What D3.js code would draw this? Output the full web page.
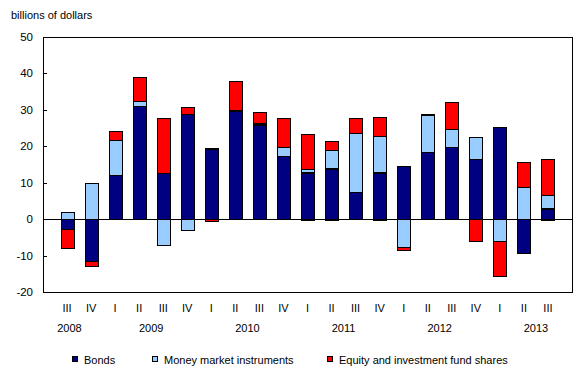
<!DOCTYPE html>
<html>
<head>
<meta charset="utf-8">
<script src="https://cdn.jsdelivr.net/npm/d3@7"></script>
<style>
  body { margin: 0; background: #fff; }
  text { font-family: "Liberation Sans", Arial, sans-serif; fill: #000; }
</style>
</head>
<body>
<script>

const w = 588;
const h = 380;

// quarters, 2008 III to 2013 III
const quarters = ["III", "IV", "I", "II", "III", "IV", "I", "II", "III", "IV", "I", "II", "III", "IV",
    "I", "II", "III", "IV", "I", "II", "III"];
const bonds = [-2.8, -11.6, 12.0, 31.0, 12.6, 28.8, 19.2, 29.7, 25.8, 17.3, 12.8, 13.9, 7.4, 12.8,
    14.5, 18.4, 19.7, 16.4, 25.2, -9.4, 2.9];
const money = [1.9, 9.8, 9.6, 1.4, -7.2, -3.1, 0.2, 0.2, 0.4, 2.4, 0.9, 5.0, 16.2, 9.9,
    -7.7, 10.1, 5.0, 6.1, -6.1, 8.7, 3.6];
const equity = [-5.2, -1.3, 2.5, 6.5, 15.1, 1.9, -0.6, 7.9, 3.1, 8.0, 9.6, 2.5, 4.1, 5.3,
    -0.7, 0.4, 7.5, -6.1, -9.6, 6.9, 9.9];

const years = ["2008", "2009", "2010", "2011", "2012", "2013"];
const yearPos = [0.1, 3.5, 7.5, 11.5, 15.5, 19.5]; // in quarter index units

const yTicks = [-20, -10, 0, 10, 20, 30, 40, 50];

const seriesNames = ["Bonds", "Money market instruments", "Equity and investment fund shares"];
const colors = ["#000080", "#99ccff", "#ff0000"];

var rows = quarters.map(function (q, i) {
    return { idx: i, q: q, bonds: bonds[i], money: money[i], equity: equity[i] };
});

let svg = d3.select("body")
    .append("svg")
    .attr("width", w)
    .attr("height", h)

const plotL = 43, plotR = 572, plotT = 37, plotB = 292;

var x = d3.scaleBand()
    .domain(d3.range(quarters.length))
    .range([plotL, plotR])
    .paddingInner(0.46)
    .paddingOuter(0.73);

var y = d3.scaleLinear()
    .domain([-20, 50])
    .range([plotB, plotT]);

var stack = d3.stack()
    .keys(["bonds", "money", "equity"])
    .offset(d3.stackOffsetDiverging);

var layers = stack(rows);

const px = v => Math.round(v) + 0.5;

// bars
svg.append("g")
    .selectAll("g")
    .data(layers)
    .join("g")
    .attr("fill", (d, i) => colors[i])
    .selectAll("rect")
    .data(d => d.filter(s => s[1] !== s[0]))
    .join("rect")
    .attr("x", d => px(x(d.data.idx)))
    .attr("y", d => px(y(Math.max(d[0], d[1]))))
    .attr("width", Math.round(x.bandwidth()))
    .attr("height", d => Math.max(1, Math.round(Math.abs(y(d[0]) - y(d[1])))))
    .attr("stroke", "#000")
    .attr("stroke-width", 1);

// zero line
svg.append("line")
    .attr("x1", plotL).attr("x2", plotR)
    .attr("y1", px(y(0))).attr("y2", px(y(0)))
    .attr("stroke", "#000");

// frame
svg.append("rect")
    .attr("x", px(plotL)).attr("y", px(plotT))
    .attr("width", plotR - plotL).attr("height", plotB - plotT)
    .attr("fill", "none")
    .attr("stroke", "#000");

// y ticks (inward) and labels
var yt = svg.append("g");
yt.selectAll("line")
    .data(yTicks)
    .join("line")
    .attr("x1", plotL).attr("x2", plotL + 4)
    .attr("y1", d => px(y(d))).attr("y2", d => px(y(d)))
    .attr("stroke", "#000");
yt.selectAll("text")
    .data(yTicks)
    .join("text")
    .attr("x", 33)
    .attr("y", d => y(d) + 4)
    .attr("text-anchor", "end")
    .style("font-size", "11.5px")
    .text(d => d);

// quarter labels
svg.append("g")
    .selectAll("text")
    .data(rows)
    .join("text")
    .attr("x", d => x(d.idx) + x.bandwidth() / 2)
    .attr("y", 312)
    .attr("text-anchor", "middle")
    .style("font-size", "11px")
    .text(d => d.q);

// year labels
svg.append("g")
    .selectAll("text")
    .data(years)
    .join("text")
    .attr("x", (d, i) => x(0) + x.bandwidth() / 2 + yearPos[i] * x.step())
    .attr("y", 332)
    .attr("text-anchor", "middle")
    .style("font-size", "11px")
    .text(d => d);

// unit title
svg.append("text")
    .attr("x", 11)
    .attr("y", 19)
    .style("font-size", "11px")
    .text("billions of dollars");

// legend
const legendX = [72, 152, 327];
var lg = svg.append("g")
    .selectAll("g")
    .data(seriesNames)
    .join("g")
    .attr("transform", (d, i) => "translate(" + legendX[i] + ",356)");
lg.append("rect")
    .attr("x", 0.5).attr("y", 0.5)
    .attr("width", 5).attr("height", 5)
    .attr("fill", (d, i) => colors[i])
    .attr("stroke", "#000");
lg.append("text")
    .attr("x", 12)
    .attr("y", 7.5)
    .style("font-size", "11px")
    .text(d => d);

</script>
</body>
</html>
